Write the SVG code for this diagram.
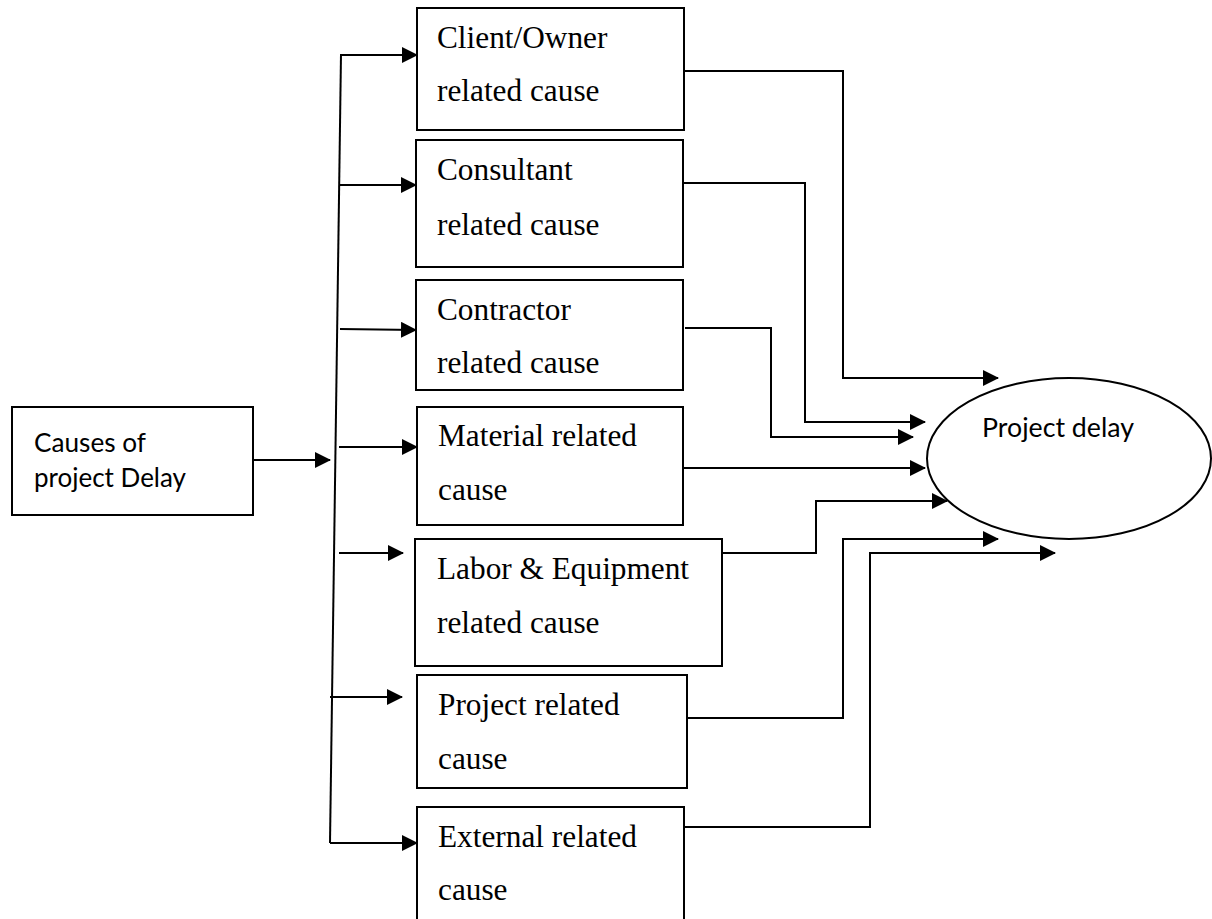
<svg xmlns="http://www.w3.org/2000/svg" width="1212" height="919" viewBox="0 0 1212 919">
<style>
.box{fill:#fff;stroke:#000;stroke-width:2}
.ser{font-family:"Liberation Serif","Times New Roman",serif;font-size:31.3px;fill:#000}
.san{font-family:Lato,"Liberation Sans",sans-serif;font-size:27.5px;fill:#000}
.ln{fill:none;stroke:#000;stroke-width:2}
.ar{fill:none;stroke:#000;stroke-width:2;marker-end:url(#ah)}
</style>
<defs>
<marker id="ah" markerUnits="userSpaceOnUse" markerWidth="17" markerHeight="17" refX="15" refY="8" orient="auto" viewBox="0 0 17 17">
<path d="M0,0 L16,8 L0,16 z" fill="#000"/>
</marker>
</defs>
<rect width="1212" height="919" fill="#fff"/>
<g id="connectors">
<line class="ar" x1="253" y1="460" x2="330" y2="460"/>
<polyline class="ln" points="330,843 341,54"/>
<polyline class="ar" points="341,55 417,55"/>
<line class="ar" x1="340" y1="185" x2="416" y2="185"/>
<line class="ar" x1="340" y1="329" x2="416" y2="330"/>
<line class="ar" x1="339" y1="447" x2="417" y2="447"/>
<line class="ar" x1="339" y1="553" x2="403" y2="553"/>
<line class="ar" x1="330" y1="697" x2="402" y2="697"/>
<polyline class="ar" points="330,843 417,843"/>
<polyline class="ar" points="684,71 843,71 843,378 998,378"/>
<polyline class="ar" points="683,183 805,183 805,422 925,422"/>
<polyline class="ar" points="685,328 771,328 771,437 913,437"/>
<polyline class="ar" points="683,468 925,468"/>
<polyline class="ar" points="722,553 816,553 816,501 947,501"/>
<polyline class="ar" points="687,718 843,718 843,539 998,539"/>
<polyline class="ar" points="684,827 870,827 870,553 1055,553"/>
</g>
<g id="n-causes">
<rect class="box" x="12" y="407" width="241" height="108"/>
<text class="san" x="34" y="452" textLength="112" lengthAdjust="spacingAndGlyphs">Causes of</text>
<text class="san" x="34" y="487" textLength="152" lengthAdjust="spacingAndGlyphs">project Delay</text>
</g>
<g id="n-client">
<rect class="box" x="417" y="8" width="267" height="122"/>
<text class="ser" x="437" y="48">Client/Owner</text>
<text class="ser" x="437" y="101">related cause</text>
</g>
<g id="n-consultant">
<rect class="box" x="416" y="140" width="267" height="127"/>
<text class="ser" x="437" y="180">Consultant</text>
<text class="ser" x="437" y="235">related cause</text>
</g>
<g id="n-contractor">
<rect class="box" x="416" y="280" width="267" height="110"/>
<text class="ser" x="437" y="320">Contractor</text>
<text class="ser" x="437" y="373">related cause</text>
</g>
<g id="n-material">
<rect class="box" x="417" y="407" width="266" height="118"/>
<text class="ser" x="438" y="446">Material related</text>
<text class="ser" x="438" y="500">cause</text>
</g>
<g id="n-labor">
<rect class="box" x="415" y="539" width="307" height="127"/>
<text class="ser" x="437" y="579">Labor &amp; Equipment</text>
<text class="ser" x="437" y="633">related cause</text>
</g>
<g id="n-project">
<rect class="box" x="417" y="675" width="270" height="113"/>
<text class="ser" x="438" y="715">Project related</text>
<text class="ser" x="438" y="769">cause</text>
</g>
<g id="n-external">
<rect class="box" x="417" y="807" width="267" height="130"/>
<text class="ser" x="438" y="847">External related</text>
<text class="ser" x="438" y="900">cause</text>
</g>
<g id="n-delay">
<ellipse class="box" cx="1069" cy="458.5" rx="142" ry="80.5"/>
<text class="san" x="982" y="437" textLength="152" lengthAdjust="spacingAndGlyphs">Project delay</text>
</g>
</svg>
